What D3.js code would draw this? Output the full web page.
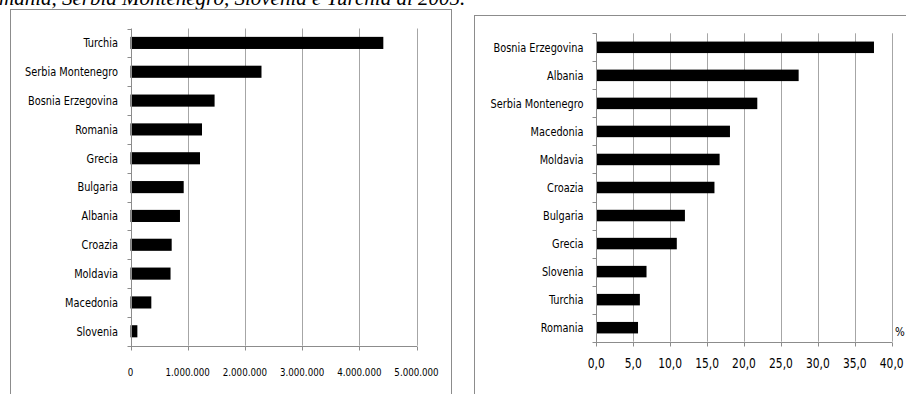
<!DOCTYPE html>
<html>
<head>
<meta charset="utf-8">
<script src="https://cdn.jsdelivr.net/npm/d3@7"></script>
<style>
  html, body { margin: 0; padding: 0; background: #fff; }
  svg { display: block; }
  .cat, .tick-lbl { font-family: "Liberation Sans Narrow", "DejaVu Sans Condensed", sans-serif; fill: #000; }
</style>
</head>
<body>
<script>
// Migranti (valori assoluti) per paese
const countriesAbs = ["Turchia", "Serbia Montenegro", "Bosnia Erzegovina", "Romania", "Grecia",
  "Bulgaria", "Albania", "Croazia", "Moldavia", "Macedonia", "Slovenia"];
const valuesAbs = [4420000, 2290000, 1470000, 1250000, 1215000, 930000, 865000, 720000, 700000, 364000, 120000];
const ticksAbs = [0, 1000000, 2000000, 3000000, 4000000, 5000000];

// Migranti in % della popolazione
const countriesPct = ["Bosnia Erzegovina", "Albania", "Serbia Montenegro", "Macedonia", "Moldavia",
  "Croazia", "Bulgaria", "Grecia", "Slovenia", "Turchia", "Romania"];
const valuesPct = [37.6, 27.4, 21.8, 18.1, 16.7, 16.0, 12.0, 10.9, 6.8, 5.9, 5.65];
const ticksPct = [0, 5, 10, 15, 20, 25, 30, 35, 40];

const titleText = "mania, Serbia Montenegro, Slovenia e Turchia  al 2005.";

const itLocale = d3.formatLocale({ decimal: ",", thousands: ".", grouping: [3], currency: ["€", ""] });
const fmtAbs = itLocale.format(",.0f");
const fmtPct = itLocale.format(".1f");

const W = 906, H = 394;
const svg = d3.select("body").append("svg").attr("width", W).attr("height", H);

// title line, partly cut by the top edge
svg.append("text")
  .attr("x", -1).attr("y", 5)
  .style("font-family", "'Liberation Serif', 'DejaVu Serif', serif")
  .style("font-style", "italic")
  .style("font-size", "21px")
  .text(titleText);

// narrow-looking text: horizontal squeeze around the anchor point
const squeeze = (x, y, sx) => `translate(${x},${y}) scale(${sx},1)`;

function panel(opt) {
  // outer frame
  svg.append("rect")
    .attr("x", opt.frame[0] + 0.5).attr("y", opt.frame[1] + 0.5)
    .attr("width", opt.frame[2]).attr("height", opt.frame[3])
    .attr("fill", "#fff").attr("stroke", "#8c8c8c").attr("stroke-width", 1);

  const x = d3.scaleLinear().domain(opt.xDomain).range([opt.x0, opt.x1]);
  const y = d3.scaleBand().domain(opt.cats).range([opt.y0, opt.y1]).padding(0);
  const g = svg.append("g");

  // vertical gridlines
  g.selectAll("line.grid").data(opt.ticks.slice(1)).enter().append("line")
    .attr("x1", d => Math.round(x(d)) + 0.5).attr("x2", d => Math.round(x(d)) + 0.5)
    .attr("y1", opt.y0).attr("y2", opt.y1)
    .attr("stroke", "#a6a6a6").attr("stroke-width", 1);

  // bars
  const bh = y.bandwidth() * opt.barFrac;
  g.selectAll("rect.bar").data(opt.values).enter().append("rect")
    .attr("x", x(0))
    .attr("y", (d, i) => y(opt.cats[i]) + (y.bandwidth() - bh) / 2)
    .attr("width", d => x(d) - x(0))
    .attr("height", bh)
    .attr("fill", "#000");

  // category axis with ticks at band boundaries
  const ax0 = Math.round(x(0)) + 0.5;
  g.append("line").attr("x1", ax0).attr("x2", ax0).attr("y1", opt.y0).attr("y2", opt.y1 + 4)
    .attr("stroke", "#8c8c8c");
  const bounds = opt.cats.map(c => y(c)).concat([opt.y1]);
  g.selectAll("line.ct").data(bounds).enter().append("line")
    .attr("x1", ax0 - 4).attr("x2", ax0)
    .attr("y1", d => Math.round(d) + 0.5).attr("y2", d => Math.round(d) + 0.5)
    .attr("stroke", "#8c8c8c");
  g.selectAll("text.cat").data(opt.cats).enter().append("text")
    .attr("class", "cat")
    .style("font-size", "12.5px")
    .attr("transform", d => squeeze(opt.labelX, y(d) + y.bandwidth() / 2, 0.87))
    .attr("dy", "0.35em")
    .attr("text-anchor", "end")
    .text(d => d);

  // value axis
  const yb = Math.round(opt.y1) + 0.5;
  g.append("line").attr("x1", opt.x0).attr("x2", opt.x1 + 0.5).attr("y1", yb).attr("y2", yb)
    .attr("stroke", "#8c8c8c");
  g.selectAll("line.vt").data(opt.ticks).enter().append("line")
    .attr("x1", d => Math.round(x(d)) + 0.5).attr("x2", d => Math.round(x(d)) + 0.5)
    .attr("y1", yb).attr("y2", yb + 4)
    .attr("stroke", "#8c8c8c");
  g.selectAll("text.vl").data(opt.ticks).enter().append("text")
    .attr("class", "tick-lbl")
    .style("font-size", opt.tickSize + "px")
    .attr("transform", d => squeeze(x(d), opt.tickY, 0.88))
    .attr("dy", "0.35em")
    .attr("text-anchor", "middle")
    .text(opt.fmt);
  return { x, y };
}

panel({
  frame: [10, 9, 441, 400],
  cats: countriesAbs, values: valuesAbs, ticks: ticksAbs,
  xDomain: [0, 5000000], x0: 130.5, x1: 416.5,
  y0: 28.5, y1: 345.7, barFrac: 0.42,
  labelX: 118, tickY: 371.7, tickSize: 11, fmt: fmtAbs
});

panel({
  frame: [474, 15, 450, 400],
  cats: countriesPct, values: valuesPct, ticks: ticksPct,
  xDomain: [0, 40], x0: 596.3, x1: 891.7,
  y0: 33.3, y1: 341.7, barFrac: 0.41,
  labelX: 583.5, tickY: 363.3, tickSize: 13.5, fmt: fmtPct
});

// unit label of the percentage axis
svg.append("text")
  .attr("class", "tick-lbl")
  .style("font-size", "13px")
  .attr("transform", squeeze(895, 331.5, 0.88))
  .attr("dy", "0.35em")
  .text("%");
</script>
</body>
</html>
